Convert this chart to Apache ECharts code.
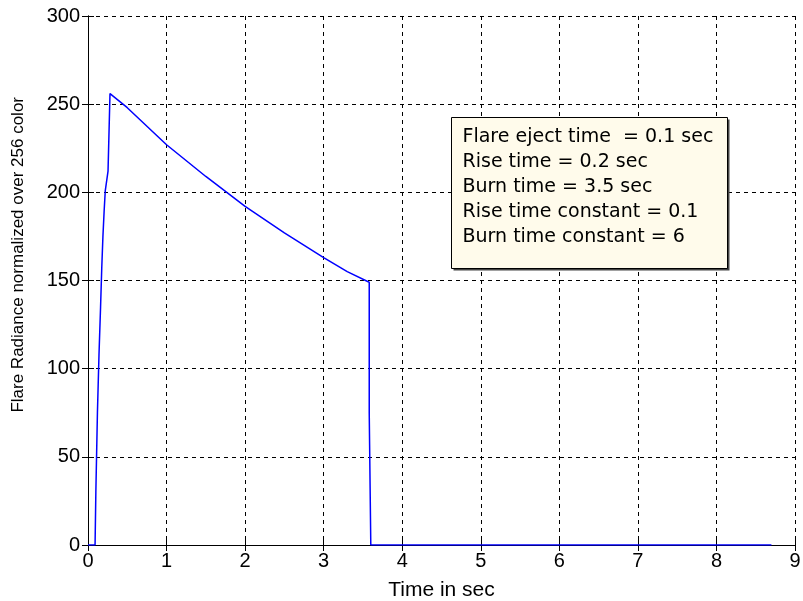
<!DOCTYPE html>
<html>
<head>
<meta charset="utf-8">
<script src="https://cdn.jsdelivr.net/npm/echarts@6/dist/echarts.min.js"></script>
<style>
  html, body { margin: 0; padding: 0; background: #fff; }
  #chart { width: 803px; height: 601px; }
</style>
</head>
<body>
<div id="chart"></div>
<script>
// Courbe : temps (s) et radiance
const timeSec = [0, 0.09, 0.1, 0.12, 0.14, 0.16, 0.175, 0.19, 0.205, 0.22, 0.255, 0.28,
  0.5, 1, 1.5, 2, 2.5, 3, 3.3, 3.58, 3.58, 3.6, 3.6, 8.7];
const radiance = [0, 0, 30, 75, 108, 135, 157, 175, 189, 201, 212, 256,
  248, 227, 209, 192, 177, 163, 155, 149, 75, 74, 0, 0];

const infoLines = [
  'Flare eject time  = 0.1 sec',
  'Rise time = 0.2 sec',
  'Burn time = 3.5 sec',
  'Rise time constant = 0.1',
  'Burn time constant = 6'
];

const FONT = '"Liberation Sans", Arial, sans-serif';

const chart = echarts.init(document.getElementById('chart'));

const gridLine = { show: true, lineStyle: { color: '#000', type: [4, 4], width: 1 } };
const tick = { show: true, inside: true, length: 6, lineStyle: { color: '#000' } };
const label = { fontFamily: FONT, fontSize: 20, color: '#000', margin: 6 };

// axes du haut et de droite : seulement le cadre et les graduations
const xMirror = { type: 'value', min: 0, max: 9, interval: 1, position: 'top',
  axisLine: { lineStyle: { color: '#000' } }, axisTick: tick, axisLabel: { show: false }, splitLine: { show: false } };
const yMirror = { type: 'value', min: 0, max: 300, interval: 50, position: 'right',
  axisLine: { show: true, lineStyle: { color: '#000' } }, axisTick: tick, axisLabel: { show: false }, splitLine: { show: false } };

chart.setOption({
  animation: false,
  backgroundColor: '#fff',
  grid: { left: 88, top: 16, right: 8, bottom: 56, outerBoundsMode: 'none', containLabel: false },
  xAxis: [{
    type: 'value', min: 0, max: 9, interval: 1,
    name: 'Time in sec', nameLocation: 'middle', nameGap: 35,
    nameTextStyle: { fontFamily: FONT, fontSize: 21, color: '#000' },
    axisLine: { lineStyle: { color: '#000' } },
    axisTick: tick,
    axisLabel: label,
    splitLine: gridLine
  }, xMirror],
  yAxis: [{
    type: 'value', min: 0, max: 300, interval: 50,
    axisLine: { show: true, lineStyle: { color: '#000' } },
    axisTick: tick,
    axisLabel: Object.assign({}, label, { margin: 8 }),
    splitLine: gridLine
  }, yMirror],
  graphic: [
    {
      type: 'text', left: 10, top: 97, rotation: Math.PI / 2, z: 100,
      style: { text: 'Flare Radiance normalized over 256 color', fontFamily: FONT, fontSize: 17, fill: '#000' }
    },
    {
      type: 'group', left: 451, top: 117, z: 100,
      children: [
        { type: 'rect', z: 100, shape: { x: 2, y: 2, width: 276, height: 151 }, style: { fill: '#444' } },
        { type: 'rect', z: 101, shape: { x: 0, y: 0, width: 276, height: 151 }, style: { fill: '#fffbeb', stroke: '#000', lineWidth: 1 } },
        {
          type: 'text', z: 102, x: 11, y: 7,
          style: { text: infoLines.join('\n'), fontFamily: 'DejaVu Sans, sans-serif', fontSize: 19, lineHeight: 25, fill: '#000' }
        }
      ]
    }
  ],
  series: [{
    type: 'line',
    data: timeSec.map((t, i) => [t, radiance[i]]),
    showSymbol: false,
    lineStyle: { color: '#0000ff', width: 1.5 },
    itemStyle: { color: '#0000ff' }
  }]
});
</script>
</body>
</html>
